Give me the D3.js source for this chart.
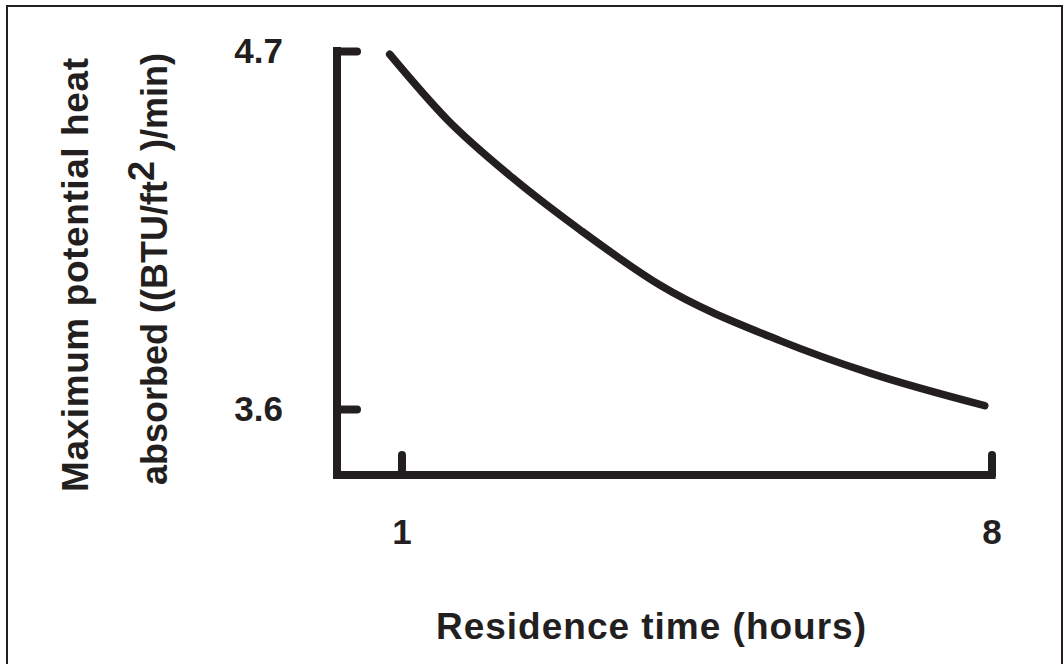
<!DOCTYPE html>
<html>
<head>
<meta charset="utf-8">
<script src="https://cdn.jsdelivr.net/npm/d3@7/dist/d3.min.js"></script>
<style>
  html, body { margin: 0; padding: 0; background: #fff; }
  svg { display: block; }
  text { font-family: "Liberation Sans", Arial, Helvetica, sans-serif; font-weight: bold; fill: #231f20; }
</style>
</head>
<body>
<svg id="chart" width="1064" height="664"></svg>
<script>
// Residence time (hours) vs. maximum potential heat absorbed
const hours = [0.86, 1.54, 2.32, 3.12, 4.07, 5.49, 6.56, 7.92];
const heat  = [4.69, 4.49, 4.31, 4.15, 3.98, 3.81, 3.71, 3.61];

const xTickValues = [1, 8];
const yTickValues = [4.7, 3.6];
const xExtent = [0.235, 8];
const yExtent = [3.397, 4.7];

const ink = "#231f20";
const svg = d3.select("#chart");

// outer frame
svg.append("rect")
  .attr("x", 7).attr("y", 6)
  .attr("width", 1055).attr("height", 680)
  .attr("fill", "none").attr("stroke", ink).attr("stroke-width", 2);

const x = d3.scaleLinear().domain(xExtent).range([337, 991.5]);
const y = d3.scaleLinear().domain(yExtent).range([475, 51]);

// axis frame: vertical axis joined to horizontal axis
const frame = d3.path();
frame.moveTo(x(xExtent[0]), y(yExtent[1]));
frame.lineTo(x(xExtent[0]), y(yExtent[0]));
frame.lineTo(x(xExtent[1]), y(yExtent[0]));
svg.append("path")
  .attr("d", frame.toString())
  .attr("fill", "none").attr("stroke", ink)
  .attr("stroke-width", 8).attr("stroke-linejoin", "miter").attr("stroke-linecap", "square");

const yAxis = d3.axisLeft(y).tickValues(yTickValues).tickSize(-20).tickPadding(54)
  .tickFormat(d3.format(".1f"));
const xAxis = d3.axisBottom(x).tickValues(xTickValues).tickSize(-20).tickPadding(44)
  .tickFormat(d3.format("d"));

const gy = svg.append("g").attr("transform", `translate(${x(xExtent[0])},0)`).call(yAxis);
const gx = svg.append("g").attr("transform", `translate(0,${y(yExtent[0])})`).call(xAxis);

[gx, gy].forEach(g => {
  g.select(".domain").remove();
  g.selectAll(".tick line").attr("stroke", ink).attr("stroke-width", 8).attr("stroke-linecap", "round");
  g.selectAll(".tick text")
    .attr("fill", ink)
    .style("font-family", "'Liberation Sans', Arial, sans-serif")
    .style("font-weight", "bold")
    .style("font-size", "35px");
});
gy.selectAll(".tick line").attr("x1", 0);
gx.selectAll(".tick line").attr("y1", 0);

// curve
const line = d3.line()
  .x(d => x(d[0]))
  .y(d => y(d[1]))
  .curve(d3.curveMonotoneX);
svg.append("path")
  .datum(hours.map((h, i) => [h, heat[i]]))
  .attr("d", line)
  .attr("fill", "none").attr("stroke", ink)
  .attr("stroke-width", 7.5).attr("stroke-linecap", "round").attr("stroke-linejoin", "round");

// x-axis title
svg.append("text")
  .attr("x", 651).attr("y", 639)
  .attr("text-anchor", "middle")
  .attr("textLength", 430).attr("lengthAdjust", "spacing")
  .style("font-size", "37px")
  .text("Residence time (hours)");

// y-axis title, two lines
svg.append("text")
  .attr("transform", "translate(88,275) rotate(-90)")
  .attr("text-anchor", "middle")
  .attr("textLength", 434).attr("lengthAdjust", "spacing")
  .style("font-size", "37px")
  .text("Maximum potential heat");

const t2 = svg.append("text")
  .attr("transform", "translate(167,269) rotate(-90)")
  .attr("text-anchor", "middle")
  .attr("textLength", 432).attr("lengthAdjust", "spacing")
  .style("font-size", "36px");
t2.append("tspan").text("absorbed ((BTU/ft");
t2.append("tspan").attr("dy", -13).text("2");
t2.append("tspan").attr("dy", 13).text("\u00a0)/min)");
</script>
</body>
</html>
